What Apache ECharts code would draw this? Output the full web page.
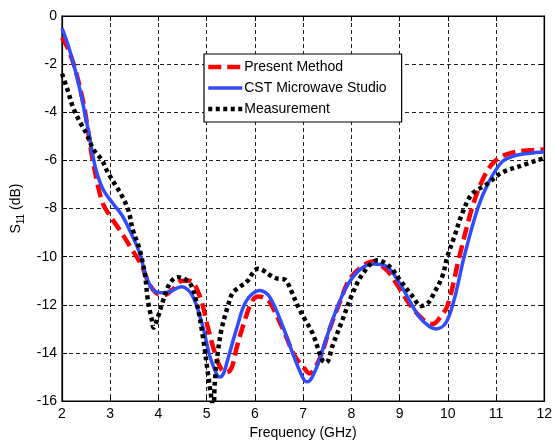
<!DOCTYPE html>
<html>
<head>
<meta charset="utf-8">
<script src="https://cdn.jsdelivr.net/npm/echarts@6/dist/echarts.min.js"></script>
<style>html,body{margin:0;padding:0;background:#fff}#c{width:555px;height:445px}</style>
</head>
<body>
<div id="c"></div>
<script>
// Tick values
const xTicks = [2,3,4,5,6,7,8,9,10,11,12];
const yTicks = [0,-2,-4,-6,-8,-10,-12,-14,-16];
const seriesNames = ['Present Method','CST Microwave Studio','Measurement'];

// Present Method (red dashed)
const pmFreq = [2,2.1,2.2,2.3,2.41,2.48,2.55,2.62,2.75,2.85,2.96,3.2,3.45,3.66,3.8,3.95,4.1,4.3,4.5,4.65,4.86,5.02,5.17,5.31,5.42,5.52,5.62,5.75,5.93,6.06,6.18,6.31,6.58,6.82,7.03,7.13,7.34,7.55,7.76,7.96,8.23,8.44,8.73,8.93,9.2,9.48,9.68,9.85,10.0,10.24,10.5,10.7,10.9,11.1,11.4,11.7,12];
const pmVal  = [-0.9,-1.25,-1.75,-2.4,-3.3,-4.0,-4.9,-5.8,-7.1,-7.8,-8.2,-8.9,-9.7,-10.4,-11.1,-11.5,-11.6,-11.35,-11.0,-11.0,-11.65,-12.9,-14.0,-14.7,-14.8,-14.6,-13.8,-12.9,-11.9,-11.65,-11.7,-11.9,-13.0,-14.1,-14.65,-14.85,-14.25,-13.0,-11.9,-10.95,-10.4,-10.2,-10.55,-11.1,-11.95,-12.6,-12.8,-12.5,-12.0,-10.0,-8.0,-6.9,-6.2,-5.85,-5.65,-5.58,-5.55];

// CST Microwave Studio (blue solid)
const cstFreq = [2,2.1,2.2,2.3,2.37,2.44,2.51,2.58,2.64,2.72,2.85,3.06,3.25,3.45,3.62,3.76,3.93,4.1,4.24,4.48,4.7,4.92,5.06,5.2,5.27,5.35,5.44,5.62,5.82,6.1,6.3,6.58,6.8,7.0,7.09,7.27,7.48,7.69,7.9,8.17,8.44,8.73,9.0,9.2,9.41,9.62,9.76,9.96,10.13,10.34,10.62,10.85,11.13,11.4,11.7,12];
const cstVal  = [-0.5,-1.05,-1.7,-2.45,-3.05,-3.7,-4.4,-5.1,-5.8,-6.5,-7.2,-7.8,-8.3,-9.1,-9.9,-10.9,-11.45,-11.5,-11.45,-11.25,-11.6,-12.9,-14.1,-14.85,-15.0,-14.85,-14.25,-13.0,-11.85,-11.4,-11.65,-12.9,-14.1,-15.05,-15.2,-14.65,-13.4,-12.2,-11.25,-10.55,-10.3,-10.4,-11.1,-11.8,-12.5,-12.9,-13.0,-12.75,-11.8,-10.0,-8.0,-6.9,-6.05,-5.8,-5.7,-5.65];

// Measurement (black dotted)
const msFreq = [2,2.12,2.23,2.37,2.51,2.64,2.83,2.95,3.1,3.25,3.38,3.47,3.61,3.72,3.78,3.86,3.9,3.99,4.1,4.24,4.4,4.65,4.79,4.92,5.03,5.1,5.14,5.17,5.23,5.31,5.44,5.54,5.69,5.85,5.95,6.06,6.2,6.3,6.45,6.62,6.76,6.9,7.05,7.2,7.4,7.48,7.61,7.82,8.0,8.24,8.55,8.79,9.0,9.27,9.45,9.6,9.68,9.89,9.99,10.13,10.3,10.5,10.8,11.13,11.48,12];
const msVal  = [-2.4,-3.1,-3.8,-4.4,-4.9,-5.5,-6.0,-6.5,-7.0,-7.5,-8.1,-8.9,-9.7,-10.75,-11.8,-12.6,-12.95,-12.5,-11.8,-11.1,-10.85,-11.1,-11.9,-13.3,-14.9,-15.9,-16.3,-15.2,-14.0,-13.0,-12.05,-11.5,-11.25,-11.0,-10.7,-10.5,-10.6,-10.75,-10.9,-10.95,-11.45,-12.1,-12.65,-13.2,-14.3,-14.4,-13.7,-12.6,-11.65,-10.7,-10.15,-10.4,-10.95,-11.65,-12.05,-11.9,-11.65,-10.8,-10.0,-9.2,-8.2,-7.4,-7.0,-6.5,-6.25,-5.9];

const zip = (a,b) => a.map((v,i)=>[v,b[i]]);
const font = "'Liberation Sans', Arial, sans-serif";
const styles = [
  {color:'#ff0000', width:4.5, type:[13,6]},
  {color:'#2f4cff', width:3.5, type:'solid'},
  {color:'#000000', width:4.5, type:[4,3.5]}
];

const chart = echarts.init(document.getElementById('c'), null, {renderer:'canvas'});
const gridLine = {show:true, lineStyle:{color:'#222', width:1, type:[4,3]}};
chart.setOption({
  animation:false,
  backgroundColor:'#fff',
  grid:{left:62, right:10, top:16, bottom:39, show:true, borderColor:'#000', borderWidth:1.2, backgroundColor:'transparent'},
  legend:{
    orient:'vertical', left:204, top:54,
    data:seriesNames.map((n,i)=>({name:n, lineStyle:Object.assign({}, styles[i])})),
    backgroundColor:'#fff', borderColor:'#000', borderWidth:1.2,
    padding:[6,15,6,2], itemGap:7, itemWidth:34, itemHeight:14,
    itemStyle:{opacity:0},
    textStyle:{fontFamily:font, fontSize:14, color:'#000', padding:[0,0,0,-3]}
  },
  xAxis:[{
    type:'value', min:2, max:12, interval:1,
    name:'Frequency (GHz)', nameLocation:'middle', nameGap:24,
    nameTextStyle:{fontFamily:font, fontSize:14, color:'#000'},
    axisLine:{show:true, onZero:false, lineStyle:{color:'#000', width:1.2}},
    axisTick:{show:true, inside:true, length:5, lineStyle:{color:'#000'}},
    axisLabel:{fontFamily:font, fontSize:14, color:'#000', margin:6},
    splitLine:gridLine
  },{
    type:'value', min:2, max:12, interval:1, position:'top',
    axisLine:{show:true, onZero:false, lineStyle:{color:'#000', width:1.2}},
    axisTick:{show:true, inside:true, length:5, lineStyle:{color:'#000'}},
    axisLabel:{show:false}, splitLine:{show:false}
  }],
  yAxis:[{
    type:'value', min:-16, max:0, interval:2,
    name:'{s|S}{sub|11}{s| (dB)}', nameLocation:'middle', nameGap:34, nameRotate:90,
    nameTextStyle:{fontFamily:font, fontSize:14, color:'#000',
      rich:{s:{fontFamily:font, fontSize:14, color:'#000'}, sub:{fontFamily:font, fontSize:10, color:'#000', padding:[9,0,0,0]}}},
    axisLine:{show:true, onZero:false, lineStyle:{color:'#000', width:1.2}},
    axisTick:{show:true, inside:true, length:5, lineStyle:{color:'#000'}},
    axisLabel:{fontFamily:font, fontSize:14, color:'#000', margin:5},
    splitLine:gridLine
  },{
    type:'value', min:-16, max:0, interval:2, position:'right',
    axisLine:{show:true, onZero:false, lineStyle:{color:'#000', width:1.2}},
    axisTick:{show:true, inside:true, length:5, lineStyle:{color:'#000'}},
    axisLabel:{show:false}, splitLine:{show:false}
  }],
  series:[
    {name:seriesNames[0], type:'line', data:zip(pmFreq,pmVal), smooth:0.35, symbol:'none', clip:true,
     lineStyle:styles[0], itemStyle:{color:styles[0].color}, z:3},
    {name:seriesNames[1], type:'line', data:zip(cstFreq,cstVal), smooth:0.35, symbol:'none', clip:true,
     lineStyle:styles[1], itemStyle:{color:styles[1].color}, z:4},
    {name:seriesNames[2], type:'line', data:zip(msFreq,msVal), smooth:0.35, symbol:'none', clip:true,
     lineStyle:styles[2], itemStyle:{color:styles[2].color}, z:5}
  ]
});
</script>
</body>
</html>
